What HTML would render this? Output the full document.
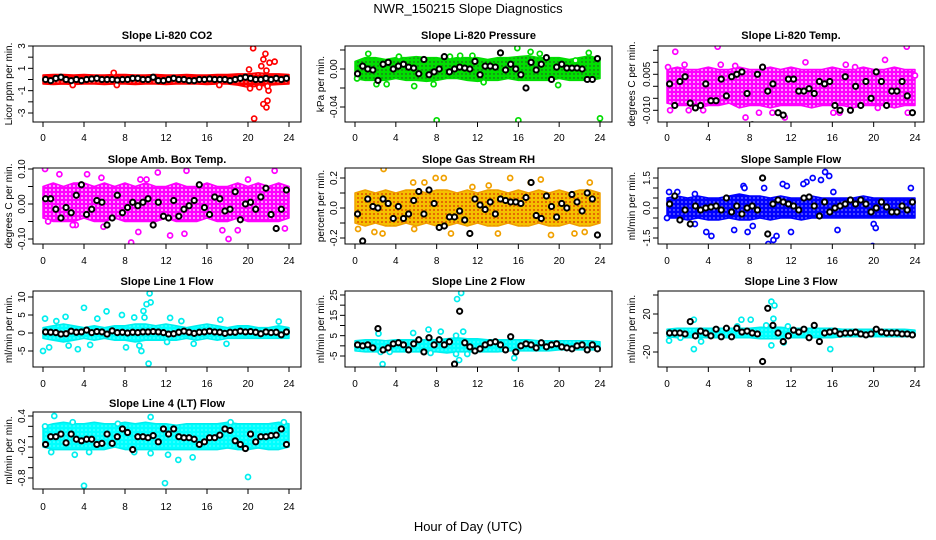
<!DOCTYPE html>
<html><head><meta charset="utf-8"><style>
html,body{margin:0;padding:0;background:#fff;}
svg{display:block;font-family:"Liberation Sans",Arial,sans-serif;}
</style></head><body>
<svg id="chart" width="936" height="540" viewBox="0 0 936 540">
<defs>
<pattern id="pat-red" width="4" height="4" patternUnits="userSpaceOnUse"><rect width="4" height="4" fill="#ff0000"/><circle cx="2" cy="2" r="0.6" fill="#fff"/></pattern>
<pattern id="pat-green" width="4" height="4" patternUnits="userSpaceOnUse"><rect width="4" height="4" fill="#00e000"/><circle cx="2" cy="2" r="0.7" fill="#333"/></pattern>
<pattern id="pat-magenta" width="4" height="4" patternUnits="userSpaceOnUse"><rect width="4" height="4" fill="#ff00ff"/><circle cx="2" cy="2" r="0.9" fill="#fff"/></pattern>
<pattern id="pat-orange" width="4" height="4" patternUnits="userSpaceOnUse"><rect width="4" height="4" fill="#f5c000"/><circle cx="2" cy="2" r="1" fill="#e05000"/></pattern>
<pattern id="pat-blue" width="4" height="4" patternUnits="userSpaceOnUse"><rect width="4" height="4" fill="#0000ff"/><circle cx="2" cy="2" r="0.6" fill="#fff"/></pattern>
<pattern id="pat-cyan" width="4" height="4" patternUnits="userSpaceOnUse"><rect width="4" height="4" fill="#00ffff"/><circle cx="2" cy="2" r="0.5" fill="#fff"/></pattern>
</defs>
<text x="468" y="13" text-anchor="middle" font-size="13">NWR_150215  Slope Diagnostics</text>
<text x="468" y="531" text-anchor="middle" font-size="13">Hour of Day (UTC)</text>
</svg>
<script>
// ---- shared data ----
const bandHours = [0,1,2,3,4,5,6,7,8,9,10,11,12,13,14,15,16,17,18,19,20,21,22,23,24];
const blackHours = [0.25,0.75,1.25,1.75,2.25,2.75,3.25,3.75,4.25,4.75,5.25,5.75,6.25,6.75,7.25,7.75,8.25,8.75,9.25,9.75,10.25,10.75,11.25,11.75,12.25,12.75,13.25,13.75,14.25,14.75,15.25,15.75,16.25,16.75,17.25,17.75,18.25,18.75,19.25,19.75,20.25,20.75,21.25,21.75,22.25,22.75,23.25,23.75];
const xTicks = [0,4,8,12,16,20,24];

// ---- panel 1: Li-820 CO2 ----
const co2Hi = [0.4,0.45,0.45,0.4,0.45,0.4,0.4,0.45,0.45,0.4,0.4,0.45,0.4,0.4,0.45,0.4,0.4,0.45,0.45,0.5,0.5,0.6,0.5,0.5,0.45];
const co2Lo = [-0.4,-0.45,-0.4,-0.45,-0.4,-0.4,-0.45,-0.4,-0.4,-0.45,-0.4,-0.4,-0.45,-0.4,-0.4,-0.4,-0.45,-0.4,-0.4,-0.5,-0.7,-0.6,-0.5,-0.45,-0.4];
const co2Out = [[20.5,2.8],[20.6,-3.5],[21.7,2.3],[21.5,1.8],[22.6,1.6],[21.3,1.2],[21.8,0.8],[20.1,0.9],[21.5,-2.2],[21.8,-2.5],[21.9,-1.9],[22,-1],[21.9,-0.6],[20.2,-0.8],[6.9,0.6],[7.2,-0.5],[2.9,-0.5],[17.2,-0.5],[21.1,-0.7],[22.1,1.5]];
const co2Black = [0,-0.1,0.1,0.2,0,-0.1,0,-0.1,0,0.05,0.1,0,0,0,-0.05,0,0,0.1,0.1,0,0,0.2,-0.1,-0.1,0,0.1,0,0,-0.1,-0.1,0,0,0.05,0,0,0,-0.1,0,0.1,0.2,0.1,0,0,0.1,0,0.1,0,0.1];
const co2Ticks = [-3,-2,-1,0,1,2,3];
const co2Labels = ["-3","","-1","","1","","3"];

// ---- panel 2: Li-820 Pressure ----
const presHi = [0.008,0.012,0.012,0.01,0.012,0.012,0.013,0.012,0.012,0.01,0.012,0.012,0.012,0.01,0.012,0.012,0.013,0.014,0.012,0.012,0.012,0.01,0.012,0.014,0.01];
const presLo = [-0.01,-0.012,-0.012,-0.012,-0.01,-0.012,-0.012,-0.013,-0.012,-0.01,-0.01,-0.012,-0.013,-0.012,-0.012,-0.01,-0.012,-0.012,-0.012,-0.012,-0.01,-0.012,-0.012,-0.012,-0.01];
const presOut = [[8,-0.054],[16,-0.054],[24,-0.052],[15.9,0.022],[1.3,0.016],[17.2,0.018],[22.9,0.017],[5.8,-0.018],[7.7,-0.016],[2.1,-0.016],[3.1,-0.016],[19.9,-0.017],[0.2,-0.01],[12.6,-0.014],[10.3,0.014],[11.5,0.014],[9.3,0.013],[18.1,0.016],[4.3,0.013],[21.6,0.009]];
const presBlack = [-0.005,0.003,0,-0.001,-0.012,0.005,0.007,0,0.003,0.005,0.002,0.001,-0.005,0.01,-0.006,-0.003,0,0.013,-0.003,0,0.002,0.001,0,0.008,-0.006,0.003,0.003,0.002,0.017,-0.001,0.005,0,-0.006,-0.02,0.007,-0.001,0.005,0.012,-0.011,0.002,0.005,0.001,0.001,0.001,0,-0.011,-0.011,0.011];
const presTicks = [0.02,0,-0.02,-0.04];
const presLabels = ["","0.00","","-0.04"];

// ---- panel 3: Li-820 Temp ----
const tempHi = [0.007,0.008,0.007,0.007,0.008,0.007,0.007,0.008,0.007,0.007,0.008,0.007,0.008,0.007,0.007,0.007,0.008,0.007,0.007,0.008,0.007,0.007,0.008,0.007,0.007];
const tempLo = [-0.007,-0.008,-0.008,-0.009,-0.008,-0.008,-0.007,-0.009,-0.008,-0.008,-0.009,-0.008,-0.008,-0.008,-0.009,-0.008,-0.008,-0.008,-0.009,-0.008,-0.008,-0.008,-0.009,-0.008,-0.008];
const tempOut = [[4.9,0.0165],[23.2,0.0165],[0.8,0.0144],[7.6,-0.013],[11.4,-0.013],[23.3,-0.011],[6.6,0.0085],[13.4,0.01],[21.1,0.011],[17.3,0.009],[2.1,-0.01],[3.5,-0.01],[10.2,-0.011],[16.1,-0.011],[16.7,-0.011],[20.4,-0.009],[8.9,-0.011],[1.7,0.009],[18.2,0.008],[24,0.0045],[0.1,0.008],[0.3,-0.01],[5.2,0.009]];
const tempBlack = [0.001,-0.008,0.002,0.004,-0.007,-0.009,-0.008,0.001,-0.006,-0.006,0.003,-0.004,0.004,0.005,0.006,-0.003,-0.016,0.005,0.008,-0.002,0.001,-0.011,-0.012,0.003,0.003,-0.002,-0.002,-0.001,-0.003,0.002,0.001,0.002,-0.008,-0.01,0.004,-0.01,0,-0.008,0.002,-0.005,0.006,0.002,-0.008,-0.002,-0.002,0.002,-0.004,-0.011];
const tempTicks = [0.015,0.01,0.005,0,-0.005,-0.01];
const tempLabels = ["","","0.005","","","-0.010"];

// ---- panel 4: Amb. Box Temp ----
const boxHi = [0.05,0.06,0.05,0.06,0.06,0.05,0.06,0.05,0.06,0.05,0.06,0.05,0.05,0.06,0.05,0.05,0.06,0.05,0.05,0.06,0.05,0.06,0.05,0.06,0.05];
const boxLo = [-0.04,-0.05,-0.05,-0.05,-0.04,-0.05,-0.05,-0.04,-0.05,-0.05,-0.05,-0.05,-0.04,-0.05,-0.05,-0.05,-0.04,-0.05,-0.05,-0.04,-0.05,-0.05,-0.05,-0.05,-0.04];
const boxOut = [[0.2,0.1],[22.6,0.095],[14.0,0.095],[8.6,-0.11],[18.1,-0.1],[12.4,-0.09],[1.6,0.085],[4.3,0.085],[11.2,0.09],[5.7,0.075],[9.5,0.07],[10.1,0.07],[20.0,0.07],[3.2,-0.06],[0.5,-0.05],[5.9,-0.065],[13.8,-0.085],[17.5,-0.075],[19.0,-0.075],[23.6,-0.07],[9.3,-0.08],[2.9,-0.06]];
const boxBlack = [0.015,0.015,-0.015,-0.04,-0.01,-0.025,0.025,0.055,-0.03,-0.015,0.01,0.005,-0.06,-0.04,0.025,-0.025,-0.01,0.005,-0.005,0.005,0.015,-0.06,0.005,-0.035,-0.04,0.01,-0.035,-0.015,-0.005,0.01,0.055,-0.01,-0.03,0.02,0.015,-0.02,-0.015,0.035,-0.045,0,0.005,-0.015,0.02,0.045,-0.03,-0.07,-0.015,0.04];
const boxTicks = [0.1,0.05,0,-0.05,-0.1];
const boxLabels = ["0.10","","0.00","","-0.10"];

// ---- panel 5: Gas Stream RH ----
const rhHi = [0.1,0.12,0.1,0.12,0.1,0.12,0.12,0.1,0.12,0.12,0.1,0.12,0.1,0.12,0.12,0.1,0.12,0.1,0.12,0.1,0.12,0.1,0.12,0.12,0.1];
const rhLo = [-0.1,-0.12,-0.1,-0.12,-0.12,-0.1,-0.12,-0.1,-0.12,-0.12,-0.1,-0.12,-0.1,-0.12,-0.12,-0.1,-0.12,-0.12,-0.1,-0.12,-0.12,-0.1,-0.12,-0.12,-0.1];
const rhOut = [[2.8,0.26],[7.9,0.2],[8.7,0.2],[15.2,0.2],[18.2,0.19],[5.7,0.17],[6.8,0.17],[0.3,-0.14],[1.9,-0.16],[2.7,-0.17],[5.8,-0.14],[9.4,-0.17],[14.0,-0.17],[19.2,-0.18],[21.5,-0.17],[22.5,-0.16],[13.1,0.15],[17.2,0.17],[23.0,0.17],[11.5,0.14]];
const rhBlack = [-0.04,-0.22,0.06,0.01,0,0.06,0.03,-0.07,0.01,-0.07,-0.04,0.05,0.11,-0.04,0.12,0.03,-0.13,-0.12,-0.06,-0.06,-0.02,-0.08,-0.17,0.06,0.02,-0.01,0.04,-0.04,0.06,0.05,0.04,0.04,0.03,0.07,0.17,-0.05,-0.07,0.08,0.01,-0.06,0.03,0,0.09,0.04,-0.02,0.1,0.06,-0.18];
const rhTicks = [0.2,0.1,0,-0.1,-0.2];
const rhLabels = ["0.2","","0.0","","-0.2"];

// ---- panel 6: Sample Flow ----
const sfHi = [0.5,0.6,0.5,0.6,0.5,0.5,0.6,0.7,0.6,0.6,0.5,0.6,0.5,0.5,0.6,0.5,0.5,0.5,0.5,0.6,0.5,0.5,0.5,0.5,0.5];
const sfLo = [-0.5,-0.5,-0.6,-0.5,-0.6,-0.6,-0.5,-0.6,-0.6,-0.5,-0.6,-0.5,-0.5,-0.6,-0.5,-0.5,-0.5,-0.5,-0.5,-0.5,-0.5,-0.5,-0.5,-0.5,-0.5];
const sfOut = [[15.3,1.8],[15.7,1.6],[14.1,1.5],[13.5,1.3],[13.2,1.2],[11.2,1.2],[11.6,1.1],[9.4,1.0],[16.1,0.8],[0.2,0.8],[1.0,0.8],[2.7,0.7],[7.4,1.1],[7.5,1.0],[23.6,1.0],[14.9,1.4],[9.8,-1.8],[10.3,-1.6],[10.6,-1.4],[12.0,-1.2],[3.8,-1.2],[4.3,-1.4],[7.8,-1.2],[8.3,-0.9],[6.5,-1.1],[16.5,-1.1],[19.9,-1.9],[20.0,-0.8],[20.2,-1.0],[0,-0.5],[2.7,-0.8]];
const sfBlack = [0.2,0.6,-0.6,-0.1,-0.8,0.1,-0.1,0,0.05,0.1,-0.1,0.5,-0.2,0.1,-0.3,0,0.1,-0.1,1.5,-1.3,0.2,0.4,0.3,0.2,0.1,-0.1,0.5,0.55,0.1,-0.4,0.3,-0.2,0,0.1,0.2,0.4,0.2,0.4,0.2,-0.2,0,0.3,0.05,-0.2,-0.2,0.1,-0.1,0.3];
const sfTicks = [1.5,1,0.5,0,-0.5,-1,-1.5];
const sfLabels = ["1.5","","","0.0","","","-1.5"];

// ---- panel 7: Line 1 Flow ----
const l1Hi = [1.5,2,2.5,2,1.5,2,1.5,2,2,2.5,2.5,2,2.5,2,1.5,2,2.5,2,1.5,2,2,1.5,1.5,2,1.5];
const l1Lo = [-1.5,-2,-2.5,-2,-1.5,-2,-1.5,-2,-2,-2.5,-2,-2,-2,-2,-1.5,-2,-1.5,-2,-1.5,-1.5,-1.5,-1.5,-1.5,-1.5,-1.5];
const l1Out = [[10.4,11],[10.5,8.5],[10.1,8],[4,7],[9.8,6.1],[6.2,6],[7.7,5],[8.9,4.3],[9.9,4.3],[12.4,4.2],[0.2,4],[2.2,4.5],[1.3,3.3],[5.3,4],[0,-5],[0.6,-4],[3.4,-4.5],[9.6,-5],[10.3,-8.5],[8.1,-4],[2.5,-3.5],[4.6,-3.3],[9.4,-3.5],[14.7,-3],[17.9,-3],[12.1,-2.5],[23.0,3.2],[17.3,3.7],[13.5,3.3]];
const l1Black = [0.3,0.2,0.1,-0.3,-0.2,0.5,0.2,0.3,0.8,0.1,0.4,0.3,-0.3,0.6,0.1,0.2,0,0.2,0.1,0.3,0.3,0.4,0.3,0.1,-0.3,-0.2,0.2,0.5,0.2,-0.1,0.2,0.3,0.5,0.3,0.2,-0.1,0.2,0.2,0.5,0.3,0.4,0.2,-0.2,0.3,0.1,0.2,-0.5,0.3];
const l1Ticks = [10,5,0,-5];
const l1Labels = ["10","5","0","-5"];

// ---- panel 8: Line 2 Flow ----
const l2Hi = [2.5,3,3,2.5,3,3,3,3,3,3.5,4,3.5,3.5,3,3,3,3,3,2.5,2.5,2.5,2.5,2.5,2.5,2];
const l2Lo = [-2.5,-3,-3,-3,-3,-3,-3,-3,-3,-3.5,-3,-3,-3,-3,-3,-2.5,-2.5,-2.5,-2.5,-2.5,-2,-2,-2,-2,-2];
const l2Out = [[10.4,26],[10.0,23],[10.6,7],[9.9,5],[7.2,8],[8.4,7],[5.7,6.3],[2.7,-9],[2.3,6],[2.5,-3],[10.2,-7],[9.9,-4],[15.6,-6],[11.0,-4],[7.4,-3.5],[3.4,-3]];
const l2Black = [0.5,0,0.5,-1,8.5,-2,-1,1,1.5,0.5,-2,1,3,-3,4,0.5,3,0.5,2,-9,17,1.5,-0.5,-2.5,-1.5,0.5,1.5,2,0.5,-2,4.5,-3,0,1,0.5,-1,1.5,-0.5,0.5,1,-0.5,-1,-1.5,0,0.5,-2,0.5,-1.5];
const l2Ticks = [25,20,15,10,5,0,-5];
const l2Labels = ["25","","15","","5","","-5"];

// ---- panel 9: Line 3 Flow ----
const l3Hi = [4,5,5,5,5,5,5,5,5,6,6,6,5,5,5,5,5,4,4,4,4,4,4,4,3];
const l3Lo = [-4,-5,-5,-5,-5,-5,-5,-5,-5,-6,-6,-6,-5,-5,-5,-5,-5,-4,-4,-4,-4,-4,-4,-4,-3];
const l3Out = [[10.1,33],[10.4,29],[2.6,14],[2.6,-17],[7.2,14],[8.1,14],[3.3,-9],[10.1,-13],[15.8,-17],[11.7,7],[9.6,8],[10.3,15],[6.8,7],[11.3,-10],[1.3,-5],[0.2,-8]];
const l3Black = [0,0,0,-1,12,-3,2,0,-3,4,-4,5,-4,5,1,2,0,-1,-30,26,8,0,-9,-3,3,1,4,-5,8,-9,0,1,2,-1,0,0,1,-1,-2,-1,4,1,0,0,0,-1,-1,-2];
const l3Ticks = [40,20,0,-20];
const l3Labels = ["","20","","-20"];

// ---- panel 10: Line 4 (LT) Flow ----
const l4Hi = [0.2,0.25,0.28,0.25,0.25,0.28,0.25,0.25,0.28,0.25,0.28,0.25,0.25,0.22,0.25,0.25,0.25,0.25,0.28,0.25,0.25,0.25,0.25,0.28,0.25];
const l4Lo = [-0.2,-0.25,-0.25,-0.25,-0.25,-0.25,-0.25,-0.2,-0.25,-0.25,-0.25,-0.25,-0.25,-0.25,-0.25,-0.25,-0.25,-0.25,-0.22,-0.25,-0.25,-0.22,-0.25,-0.25,-0.2];
const l4Out = [[1.1,0.4],[10.5,0.38],[4,-0.95],[11.9,-0.9],[20,-0.78],[3.1,-0.35],[13.2,-0.45],[14.6,-0.4],[12.2,-0.35],[0.2,0.2],[7.3,0.25],[18.3,0.28],[23.5,0.28],[0.8,-0.3],[8.9,-0.3],[4.5,-0.3],[10.5,-0.32],[2.9,0.28]];
const l4Black = [-0.15,0.0,0,0.05,-0.12,0.05,-0.05,-0.08,-0.05,-0.05,-0.15,-0.13,0.05,-0.13,0.0,0.15,0.08,-0.25,0.0,0.0,-0.02,0.02,-0.1,0.15,0.05,0.15,0.0,-0.02,-0.02,-0.05,-0.15,-0.1,-0.02,-0.02,0.03,0.15,0.12,-0.08,-0.15,-0.23,0.05,-0.1,0.0,0.0,0.02,0.03,0.15,-0.15];
const l4Ticks = [0.4,0.2,0,-0.2,-0.4,-0.6,-0.8];
const l4Labels = ["0.4","","","-0.2","","","-0.8"];

// ---- layout (pixels) ----
const cols = [{L:33,R:301,x0:43,x24:289,ylab:9},{L:345,R:612,x0:355,x24:600,ylab:321},{L:658,R:924,x0:667,x24:915,ylab:632}];
const rows = [{T:46,B:122,title:36,tick:141},{T:168,B:244,title:160,tick:264},{T:291,B:367,title:282,tick:387},{T:412,B:489,title:404,tick:510}];

const svg = document.getElementById('chart');
const NS = 'http://www.w3.org/2000/svg';
function mk(tag, attrs, parent){ const e=document.createElementNS(NS,tag); for(const k in attrs) e.setAttribute(k,attrs[k]); (parent||svg).appendChild(e); return e; }

function drawPanel(id, c, r, title, ylabel, yRef, hi, lo, outliers, black, ticks, labels, color, pat){
  const g = mk('g',{});
  
  
  const col = cols[c], row = rows[r];
  const xs = h => col.x0 + (col.x24-col.x0)*h/24;
  const ys = v => yRef[1] + (v - yRef[0])*(yRef[3]-yRef[1])/(yRef[2]-yRef[0]);
  const clipId = 'clip-'+id;
  const cp = mk('clipPath',{id:clipId},g); mk('rect',{x:col.L,y:row.T,width:col.R-col.L,height:row.B-row.T},cp);
  const inner = mk('g',{'clip-path':'url(#'+clipId+')'},g);
  let pts=[];
  for(let i=0;i<bandHours.length;i++) pts.push(xs(bandHours[i])+','+ys(hi[i]));
  for(let i=bandHours.length-1;i>=0;i--) pts.push(xs(bandHours[i])+','+ys(lo[i]));
  const band = mk('polygon',{points:pts.join(' '),fill:'url(#'+pat+')',stroke:color,'stroke-width':1.5,'stroke-linejoin':'round'},inner);
  
  
  outliers.forEach(p=>{
    const ci = mk('circle',{cx:xs(p[0]),cy:ys(p[1]),r:2.5,fill:'#fff',stroke:color,'stroke-width':1.7},inner);
    
    
  });
  const n=Math.min(black.length, blackHours.length);
  for(let i=0;i<n;i++){
    const ci = mk('circle',{cx:xs(blackHours[i]),cy:ys(black[i]),r:2.6,fill:'#fff',stroke:'#000','stroke-width':2},inner);
    
    
  }
  const box = mk('rect',{x:col.L,y:row.T,width:col.R-col.L,height:row.B-row.T,fill:'none',stroke:'#000','stroke-width':1},g);
  
  
  const xa = mk('g',{},g);
  
  
  xTicks.forEach(t=>{
    mk('line',{x1:xs(t),x2:xs(t),y1:row.B,y2:row.B+5,stroke:'#000'},xa);
    const tx = mk('text',{x:xs(t),y:row.tick,'text-anchor':'middle','font-size':10},xa);
    tx.textContent = t;
  });
  const ya = mk('g',{},g);
  
  
  ticks.forEach((t,i)=>{
    const y = ys(t);
    if(y<row.T-1||y>row.B+1) return;
    mk('line',{x1:col.L-5,x2:col.L,y1:y,y2:y,stroke:'#000'},ya);
    if(labels[i]){
      const tx = mk('text',{x:col.L-8,y:y,'text-anchor':'middle','font-size':10,transform:'rotate(-90 '+(col.L-8)+' '+y+')'},ya);
      tx.textContent = labels[i];
    }
  });
  const yl = mk('text',{x:col.ylab+3,y:(row.T+row.B)/2,'text-anchor':'middle','font-size':10,transform:'rotate(-90 '+(col.ylab+3)+' '+((row.T+row.B)/2)+')'},g);
  yl.textContent = ylabel;
  
  
  const tt = mk('text',{x:(col.L+col.R)/2,y:row.title+3,'text-anchor':'middle','font-size':11,'font-weight':'bold'},g);
  tt.textContent = title;
  
  
}

drawPanel('co2',0,0,'Slope Li-820 CO2','Licor ppm per min.',[3,46,-3,113],co2Hi,co2Lo,co2Out,co2Black,co2Ticks,co2Labels,'#ff0000','pat-red');
drawPanel('pressure',1,0,'Slope Li-820 Pressure','kPa per min.',[0,69,-0.04,107],presHi,presLo,presOut,presBlack,presTicks,presLabels,'#00dd00','pat-green');
drawPanel('licor-temp',2,0,'Slope Li-820 Temp.','degrees C per min.',[0.005,74.3,-0.01,110.3],tempHi,tempLo,tempOut,tempBlack,tempTicks,tempLabels,'#ff00ff','pat-magenta');
drawPanel('box-temp',0,1,'Slope Amb. Box Temp.','degrees C per min.',[0.1,169,-0.1,239],boxHi,boxLo,boxOut,boxBlack,boxTicks,boxLabels,'#ff00ff','pat-magenta');
drawPanel('gas-rh',1,1,'Slope Gas Stream RH','percent per min.',[0.2,178,-0.2,238],rhHi,rhLo,rhOut,rhBlack,rhTicks,rhLabels,'#f0a000','pat-orange');
drawPanel('sample-flow',2,1,'Slope Sample Flow','ml/min per min.',[1.5,178,-1.5,238],sfHi,sfLo,sfOut,sfBlack,sfTicks,sfLabels,'#0000ff','pat-blue');
drawPanel('line1-flow',0,2,'Slope Line 1 Flow','ml/min per min.',[10,297,-5,351],l1Hi,l1Lo,l1Out,l1Black,l1Ticks,l1Labels,'#00eeee','pat-cyan');
drawPanel('line2-flow',1,2,'Slope Line 2 Flow','ml/min per min.',[25,295,-5,356],l2Hi,l2Lo,l2Out,l2Black,l2Ticks,l2Labels,'#00eeee','pat-cyan');
drawPanel('line3-flow',2,2,'Slope Line 3 Flow','ml/min per min.',[20,314,-20,352],l3Hi,l3Lo,l3Out,l3Black,l3Ticks,l3Labels,'#00eeee','pat-cyan');
drawPanel('line4-flow',0,3,'Slope Line 4 (LT) Flow','ml/min per min.',[0.4,416,-0.8,478],l4Hi,l4Lo,l4Out,l4Black,l4Ticks,l4Labels,'#00eeee','pat-cyan');
</script>
</body></html>
